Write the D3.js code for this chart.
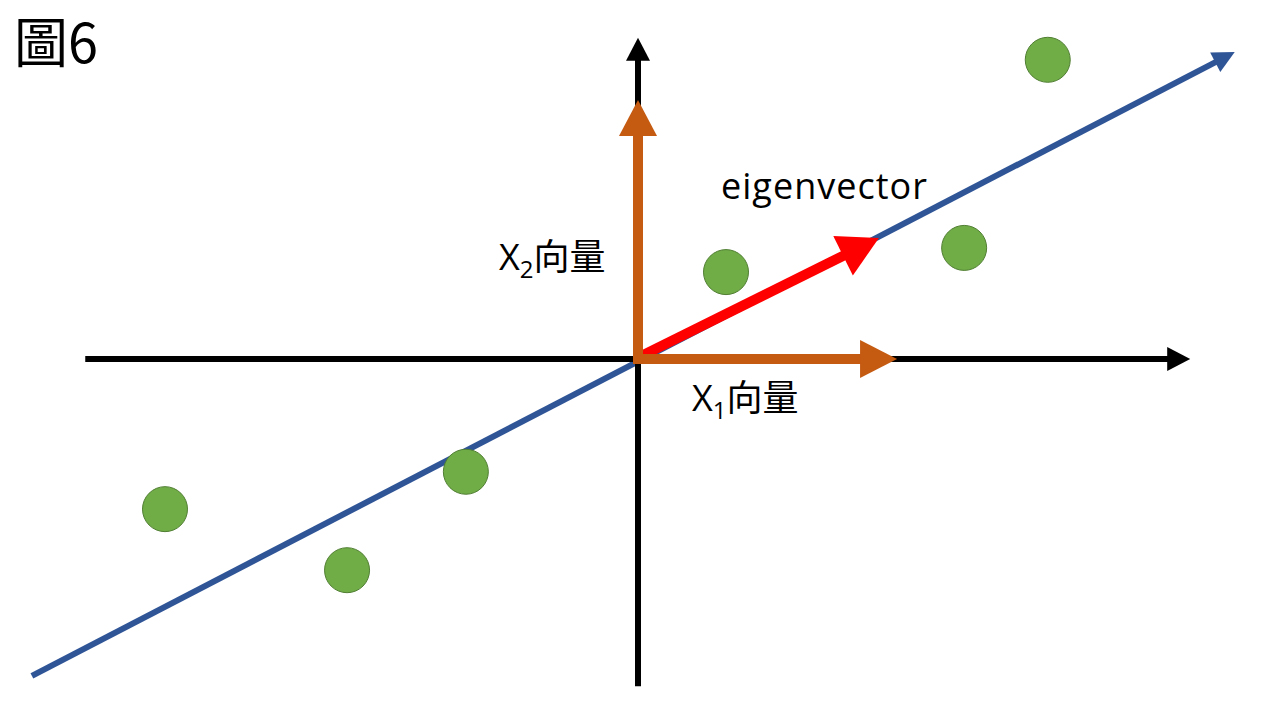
<!DOCTYPE html>
<html><head><meta charset="utf-8">
<script src="https://cdn.jsdelivr.net/npm/d3@7"></script>
<style>html,body{margin:0;padding:0;background:#fff;}svg{display:block;}</style>
</head><body>
<svg id="c" width="1280" height="720"></svg>
<script>
// Data (in coordinate units, origin at the axes crossing)
const pointX = [-8.6, -5.29, -3.13, 1.6, 5.93, 7.45];
const pointY = [-2.73, -3.84, -2.05, 1.58, 2.02, 5.44];
const axisX = [-10.05, 10.04];   // horizontal axis extent
const axisY = [-5.95, 5.84];     // vertical axis extent
const x1Vector = [4.71, 0];
const x2Vector = [0, 4.71];
const eigenVector = [4.38, 2.2];
const fitLine = [[-11.02, -5.76], [10.85, 5.58]];
const labels = ["圖6", "eigenvector", "向量"];

const svg = d3.select("#c");
const x = d3.scaleLinear().domain([-10, 10]).range([88, 1188]);
const y = d3.scaleLinear().domain([-6, 6]).range([689, 29]);

function arrow(g, x0, y0, x1, y1, color, width, headLen, headHalf) {
  const X0 = x(x0), Y0 = y(y0), X1 = x(x1), Y1 = y(y1);
  const dx = X1 - X0, dy = Y1 - Y0, L = Math.hypot(dx, dy);
  const ux = dx / L, uy = dy / L, px = -uy, py = ux;
  const bx = X1 - ux * headLen, by = Y1 - uy * headLen;
  g.append("line").attr("x1", X0).attr("y1", Y0)
    .attr("x2", bx + ux * 2).attr("y2", by + uy * 2)
    .attr("stroke", color).attr("stroke-width", width);
  g.append("polygon").attr("points", [
    [X1, Y1], [bx + px * headHalf, by + py * headHalf], [bx - px * headHalf, by - py * headHalf]
  ].map(p => p.join(",")).join(" ")).attr("fill", color);
}

const g = svg.append("g");
// blue fitted line
arrow(g, fitLine[0][0], fitLine[0][1], fitLine[1][0], fitLine[1][1], "#2F5597", 6, 22, 11);
// axes
arrow(g, axisX[0], 0, axisX[1], 0, "#000", 6, 23, 12);
arrow(g, 0, axisY[0], 0, axisY[1], "#000", 6, 23, 12);

// points
g.selectAll("circle.pt").data(pointX.map((d, i) => [d, pointY[i]])).join("circle")
  .attr("class", "pt")
  .attr("cx", d => x(d[0])).attr("cy", d => y(d[1])).attr("r", 22.5)
  .attr("fill", "#70AD47").attr("stroke", "#507E32").attr("stroke-width", 1);

// red eigenvector
arrow(g, 0.05, 0.05, eigenVector[0], eigenVector[1], "#FF0000", 10, 40, 22);
// orange basis vectors
arrow(g, -0.09, 0, x1Vector[0], x1Vector[1], "#C55A11", 10, 37, 19);
arrow(g, 0, -0.09, x2Vector[0], x2Vector[1], "#C55A11", 10, 36, 19);

const latin = "'Open Sans','Noto Sans',sans-serif";
const cjk = "'Noto Sans CJK TC','Noto Sans CJK SC',sans-serif";

svg.append("text").attr("x", 14).attr("y", 63).attr("font-size", 54)
  .attr("font-family", cjk).attr("fill", "#000").text(labels[0]);

svg.append("text").attr("x", 721).attr("y", 199).attr("font-size", 36)
  .attr("font-family", latin).attr("fill", "#000")
  .attr("textLength", 206).attr("lengthAdjust", "spacing").text(labels[1]);

function vecLabel(tx, ty, sub) {
  const t = svg.append("text").attr("x", tx).attr("y", ty).attr("font-size", 36)
    .attr("font-family", cjk).attr("fill", "#000");
  t.append("tspan").attr("font-family", latin).text("X");
  t.append("tspan").attr("font-family", latin).attr("font-size", 24).attr("dy", 8).text(sub);
  t.append("tspan").attr("dy", -8).text(labels[2]);
}
vecLabel(499, 270, "2");
vecLabel(692, 411, "1");
</script>
</body></html>
